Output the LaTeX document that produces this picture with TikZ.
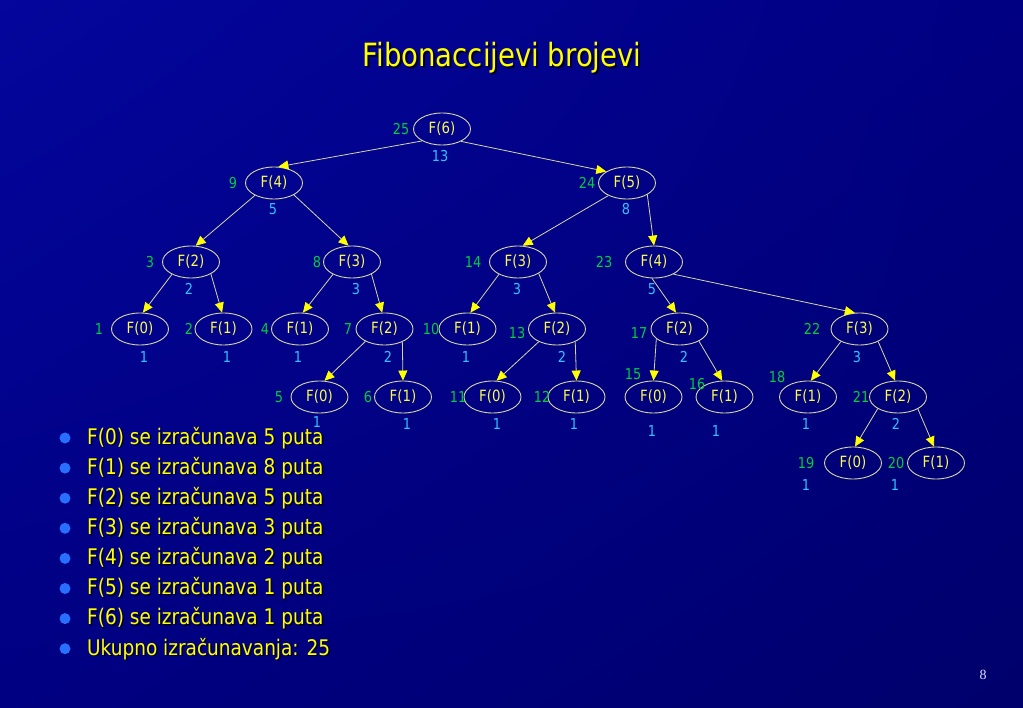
\documentclass[tikz,border=0pt]{standalone}
\usepackage{fontspec}
\setmainfont[FakeStretch=0.86]{DejaVu Sans}
\newfontfamily\pagefont{Liberation Serif}
\usetikzlibrary{shapes.geometric,arrows.meta,shadings}
\definecolor{bgul}{RGB}{4,6,156}
\definecolor{bgmid}{RGB}{0,0,130}
\definecolor{bglr}{RGB}{0,0,108}
\definecolor{nodetext}{RGB}{250,250,80}
\definecolor{edgecol}{RGB}{215,215,165}
\definecolor{greenlab}{RGB}{0,205,60}
\definecolor{bluelab}{RGB}{50,195,255}
\definecolor{bulletcol}{RGB}{40,110,255}
\definecolor{titlecol}{RGB}{255,255,0}
\definecolor{shadowcol}{RGB}{0,0,40}
\tikzset{
  fn/.style={ellipse, draw=edgecol, line width=0.9pt, minimum width=57pt, minimum height=32pt, inner sep=0pt, text=nodetext, font=\fontsize{15.5}{17}\selectfont},
  gl/.style={text=greenlab, inner sep=0pt, font=\fontsize{15}{16}\selectfont},
  bl/.style={text=bluelab, inner sep=0pt, font=\fontsize{15}{16}\selectfont},
  edge/.style={draw=edgecol, line width=0.8pt, -{Triangle[length=10pt,width=9pt,color=titlecol,fill=titlecol]}},
  titletext/.style={text=titlecol, inner sep=0pt, font=\fontsize{32}{36}\selectfont},
  titleshadow/.style={text=shadowcol, inner sep=0pt, font=\fontsize{32}{36}\selectfont},
  itemtext/.style={anchor=west, text=titlecol, inner sep=0pt, font=\fontsize{21.5}{24}\selectfont},
  itemshadow/.style={anchor=west, text=shadowcol, inner sep=0pt, font=\fontsize{21.5}{24}\selectfont},
  bdot/.style={circle, minimum size=11pt, inner sep=0pt, fill=bulletcol},
  pagenum/.style={text=white!88!blue, inner sep=0pt, font=\pagefont\fontsize{14}{16}\selectfont}
}
\begin{document}
\begin{tikzpicture}[x=1pt,y=-1pt]
\shade[upper left=bgul, upper right=bgmid, lower left=bgmid, lower right=bglr] (0,0) rectangle (1023,708);
\useasboundingbox (0,0) rectangle (1023,708);

% title
\node[titleshadow] (tsh) at (504,60) {Fibonaccijevi brojevi};
\node[titletext] (title) at (502,58) {Fibonaccijevi brojevi};

% tree nodes (named by call order)
\node[fn] (n25) at (442,129) {F(6)};
\node[fn] (n9) at (274,183) {F(4)};
\node[fn] (n24) at (627,183) {F(5)};
\node[fn] (n3) at (191,262) {F(2)};
\node[fn] (n8) at (352,262) {F(3)};
\node[fn] (n14) at (518,262) {F(3)};
\node[fn] (n23) at (654,262) {F(4)};
\node[fn] (n1) at (140,329) {F(0)};
\node[fn] (n2) at (223.5,329) {F(1)};
\node[fn] (n4) at (300,329) {F(1)};
\node[fn] (n7) at (384.5,329) {F(2)};
\node[fn] (n10) at (467.5,329) {F(1)};
\node[fn] (n13) at (557,329) {F(2)};
\node[fn] (n17) at (679.5,329) {F(2)};
\node[fn] (n22) at (859.5,329) {F(3)};
\node[fn] (n5) at (319.5,397) {F(0)};
\node[fn] (n6) at (403,397) {F(1)};
\node[fn] (n11) at (492.5,397) {F(0)};
\node[fn] (n12) at (576.5,397) {F(1)};
\node[fn] (n15) at (653.5,397) {F(0)};
\node[fn] (n16) at (724.5,397) {F(1)};
\node[fn] (n18) at (808,397) {F(1)};
\node[fn] (n21) at (898,397) {F(2)};
\node[fn] (n19) at (853,463) {F(0)};
\node[fn] (n20) at (936,463) {F(1)};

% edges
\draw[edge] (n25.211) -- (n9.75);
\draw[edge] (n25.327) -- (n24.151);
\draw[edge] (n9.213) -- (n3.74);
\draw[edge] (n9.329) -- (n8.102);
\draw[edge] (n24.214) -- (n14.74);
\draw[edge] (n24.330) -- (n23.90);
\draw[edge] (n3.213) -- (n1.80);
\draw[edge] (n3.329) -- (n2.95);
\draw[edge] (n8.213) -- (n4.80);
\draw[edge] (n8.328) -- (n7.98);
\draw[edge] (n14.213) -- (n10.80);
\draw[edge] (n14.331) -- (n13.97);
\draw[edge] (n23.263) -- (n17.102);
\draw[edge] (n23.328) -- (n22.106);
\draw[edge] (n7.213) -- (n5.73);
\draw[edge] (n7.324) -- (n6.90);
\draw[edge] (n13.215) -- (n11.76);
\draw[edge] (n13.325) -- (n12.90);
\draw[edge] (n17.203) -- (n15.90);
\draw[edge] (n17.328) -- (n16.98);
\draw[edge] (n22.214) -- (n18.80);
\draw[edge] (n22.326) -- (n21.100);
\draw[edge] (n21.210) -- (n19.83);
\draw[edge] (n21.329) -- (n20.97);

% green labels (call order)
\node[gl] (g25) at (401,129) {25};
\node[gl] (g9) at (233,183) {9};
\node[gl] (g24) at (587,183) {24};
\node[gl] (g3) at (150,262) {3};
\node[gl] (g8) at (317,262) {8};
\node[gl] (g14) at (473,262) {14};
\node[gl] (g23) at (604,262) {23};
\node[gl] (g1) at (99,329) {1};
\node[gl] (g2) at (189,329) {2};
\node[gl] (g4) at (265,329) {4};
\node[gl] (g7) at (348,329) {7};
\node[gl] (g10) at (431,329) {10};
\node[gl] (g13) at (517,333) {13};
\node[gl] (g17) at (639,333) {17};
\node[gl] (g22) at (812,329) {22};
\node[gl] (g5) at (279,397) {5};
\node[gl] (g6) at (368,397) {6};
\node[gl] (g11) at (458,397) {11};
\node[gl] (g12) at (542,397) {12};
\node[gl] (g15) at (633,374) {15};
\node[gl] (g16) at (697,384) {16};
\node[gl] (g18) at (777,377) {18};
\node[gl] (g21) at (861,397) {21};
\node[gl] (g19) at (806,463) {19};
\node[gl] (g20) at (896,463) {20};

% blue labels (values)
\node[bl] (b25) at (440,156) {13};
\node[bl] (b9) at (273,209) {5};
\node[bl] (b24) at (626,209) {8};
\node[bl] (b3) at (189,289) {2};
\node[bl] (b8) at (356,289) {3};
\node[bl] (b14) at (517,289) {3};
\node[bl] (b23) at (652,289) {5};
\node[bl] (b1) at (144,357) {1};
\node[bl] (b2) at (227,357) {1};
\node[bl] (b4) at (298,357) {1};
\node[bl] (b7) at (388,357) {2};
\node[bl] (b10) at (466,357) {1};
\node[bl] (b13) at (562,357) {2};
\node[bl] (b17) at (684,357) {2};
\node[bl] (b22) at (857,357) {3};
\node[bl] (b5) at (317,422) {1};
\node[bl] (b6) at (407,424) {1};
\node[bl] (b11) at (497,424) {1};
\node[bl] (b12) at (574,424) {1};
\node[bl] (b15) at (652,431) {1};
\node[bl] (b16) at (716,431) {1};
\node[bl] (b18) at (806,424) {1};
\node[bl] (b21) at (896,424) {2};
\node[bl] (b19) at (806,485) {1};
\node[bl] (b20) at (895,485) {1};

% bullet list
\foreach \i/\t in {0/{F(0) se izračunava 5 puta},1/{F(1) se izračunava 8 puta},2/{F(2) se izračunava 5 puta},3/{F(3) se izračunava 3 puta},4/{F(4) se izračunava 2 puta},5/{F(5) se izračunava 1 puta},6/{F(6) se izračunava 1 puta},7/{Ukupno izračunavanja: 25}}{
  \node[bdot] (d\i) at (65,438+30.1*\i) {};
  \node[itemshadow] (s\i) at (88.5,439.5+30.1*\i) {\t};
  \node[itemtext] (t\i) at (87,438+30.1*\i) {\t};
}

\node[pagenum] (pg) at (983,675) {8};
\end{tikzpicture}
\end{document}
